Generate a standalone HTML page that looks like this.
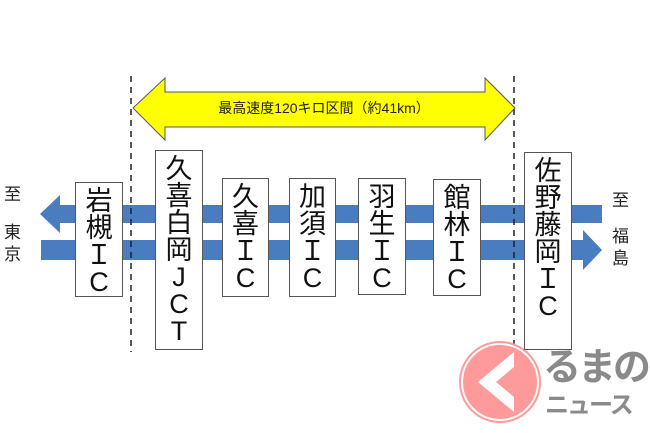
<!DOCTYPE html>
<html><head><meta charset="utf-8"><style>
body{margin:0;background:#fff;}
.w{position:relative;width:650px;height:433px;overflow:hidden;background:#fff;font-family:"Liberation Sans","Noto Sans CJK JP",sans-serif;}
.box{position:absolute;background:#fff;border:1px solid #555;box-sizing:border-box;display:flex;flex-direction:column;align-items:center;padding-top:5px;font-size:27px;line-height:27px;color:#111;}
.t{position:absolute;font-size:17px;line-height:22px;color:#222;}
</style></head><body><div class="w">
<svg width="650" height="433" style="position:absolute;left:0;top:0">
<polygon points="133,108 165,78 165,92 485,92 485,78 515,108 485,140 485,127 165,127 165,140" fill="#ffff00" stroke="#556" stroke-width="1"/>
<text x="324" y="113" font-size="14" text-anchor="middle" font-family="Liberation Sans,Noto Sans CJK JP,sans-serif" fill="#222">最高速度120キロ区間（約41km）</text>
<polygon points="40,214 60,195 60,205 602,205 602,223 60,223 60,233" fill="#4a7cc0"/>
<polygon points="41,240 583,240 583,230 602,250 583,270 583,260 41,260" fill="#4a7cc0"/>
<line x1="131" y1="76" x2="131" y2="352" stroke="#222" stroke-width="1.5" stroke-dasharray="6,5"/>
<line x1="514" y1="76" x2="514" y2="352" stroke="#222" stroke-width="1.5" stroke-dasharray="6,5"/>
<circle cx="500" cy="382" r="38" fill="#ff9a9a" stroke="#fff" stroke-width="2"/>
<circle cx="500" cy="382" r="40" fill="none" stroke="#ff9a9a" stroke-width="2"/>
<polygon points="478,382 514,352 514,367 496,382 514,397 514,412" fill="#fff"/>
</svg>
<div class="box" style="left:75px;top:182px;width:48px;height:115px"><span>岩</span><span>槻</span><span>Ｉ</span><span>C</span></div>
<div class="box" style="left:155px;top:150px;width:48px;height:200px"><span>久</span><span>喜</span><span>白</span><span>岡</span><span>J</span><span>C</span><span>T</span></div>
<div class="box" style="left:222px;top:178px;width:47px;height:119px"><span>久</span><span>喜</span><span>Ｉ</span><span>C</span></div>
<div class="box" style="left:289px;top:178px;width:47px;height:119px"><span>加</span><span>須</span><span>Ｉ</span><span>C</span></div>
<div class="box" style="left:358px;top:178px;width:48px;height:117px"><span>羽</span><span>生</span><span>Ｉ</span><span>C</span></div>
<div class="box" style="left:433px;top:179px;width:48px;height:117px"><span>館</span><span>林</span><span>Ｉ</span><span>C</span></div>
<div class="box" style="left:524px;top:152px;width:48px;height:198px"><span>佐</span><span>野</span><span>藤</span><span>岡</span><span>Ｉ</span><span>C</span></div>
<div class="t" style="left:4px;top:184px">至</div>
<div class="t" style="left:4px;top:222px">東<br>京</div>
<div class="t" style="left:612px;top:190px">至</div>
<div class="t" style="left:612px;top:226px">福<br>島</div>
<div style="position:absolute;left:543px;top:346px;font-size:38px;font-weight:bold;color:#8a8a8a;line-height:44px;letter-spacing:-3px;white-space:nowrap">るまの</div>
<div style="position:absolute;left:545px;top:392px;font-size:24px;font-weight:bold;color:#8a8a8a;line-height:28px;letter-spacing:-2px;white-space:nowrap">ニュース</div>
</div></body></html>
